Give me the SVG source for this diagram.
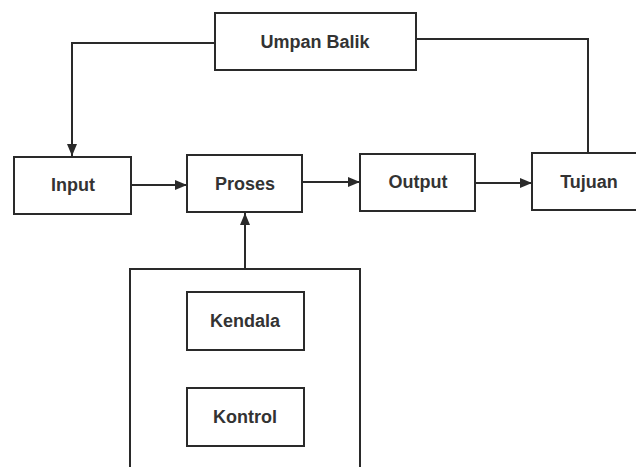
<svg xmlns="http://www.w3.org/2000/svg" width="636" height="467" viewBox="0 0 636 467">
<style>
.box{fill:#fff;stroke:#2a2a2a;stroke-width:2}
.lbl{font-family:"Liberation Sans",Arial,sans-serif;font-weight:bold;font-size:18px;fill:#333;text-anchor:middle;dominant-baseline:central}
.con{fill:none;stroke:#2a2a2a;stroke-width:2}
</style>
<defs>
<marker id="arr" markerWidth="12" markerHeight="10" refX="12" refY="5" orient="auto" markerUnits="userSpaceOnUse">
<path d="M0,0 L12,5 L0,10 Z" fill="#2a2a2a"/>
</marker>
</defs>
<rect width="636" height="467" fill="#fff"/>
<g id="connectors">
<path class="con" d="M215,43 H72 V156" marker-end="url(#arr)"/>
<path class="con" d="M416,39 H588 V153"/>
<path class="con" d="M131,185 H187" marker-end="url(#arr)"/>
<path class="con" d="M302,182 H360" marker-end="url(#arr)"/>
<path class="con" d="M475,183 H532" marker-end="url(#arr)"/>
<path class="con" d="M245,269 V213" marker-end="url(#arr)"/>
</g>
<g id="umpan-balik"><rect class="box" x="215" y="13" width="201" height="57"/><text class="lbl" x="315" y="42">Umpan Balik</text></g>
<g id="input"><rect class="box" x="14" y="157" width="117" height="57"/><text class="lbl" x="73" y="185">Input</text></g>
<g id="proses"><rect class="box" x="187" y="155" width="115" height="57"/><text class="lbl" x="245" y="184">Proses</text></g>
<g id="output"><rect class="box" x="360" y="154" width="115" height="57"/><text class="lbl" x="418" y="182">Output</text></g>
<g id="tujuan"><rect class="box" x="532" y="153" width="110" height="57"/><text class="lbl" x="589" y="182">Tujuan</text></g>
<g id="lingkungan"><rect class="box" x="130" y="269" width="230" height="210"/></g>
<g id="kendala"><rect class="box" x="187" y="292" width="117" height="58"/><text class="lbl" x="245" y="321">Kendala</text></g>
<g id="kontrol"><rect class="box" x="187" y="388" width="117" height="58"/><text class="lbl" x="245" y="417">Kontrol</text></g>
</svg>
